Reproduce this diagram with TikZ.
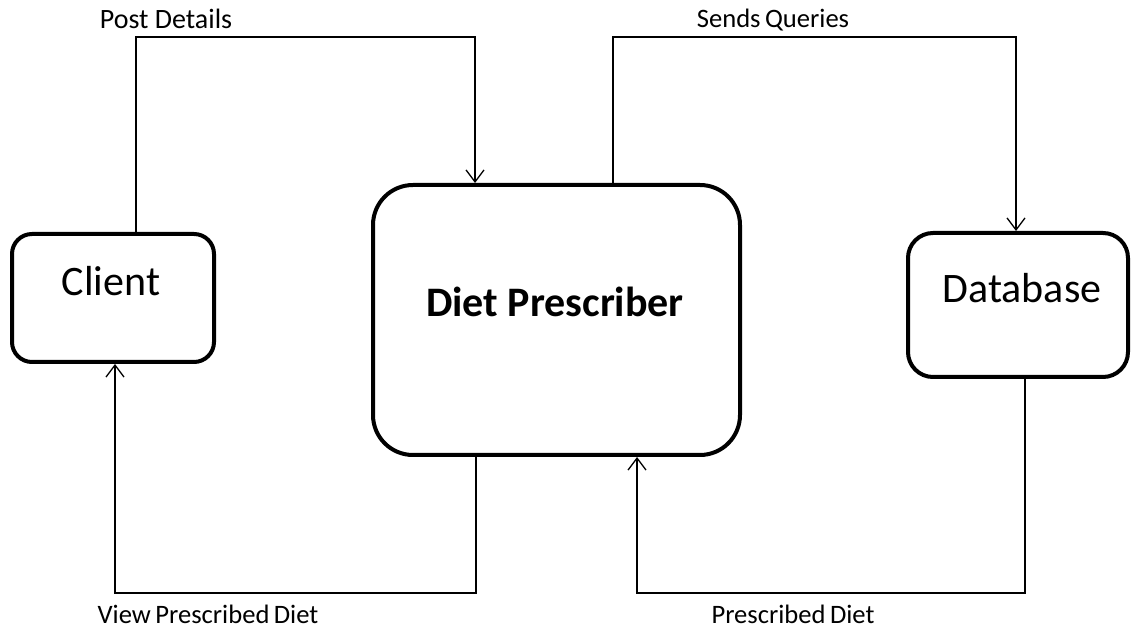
\documentclass[tikz,border=0pt]{standalone}
\usepackage{fontspec}
\setmainfont{Carlito}
\usetikzlibrary{arrows.meta}
\newcommand{\tightspaces}{\spaceskip=2.2pt\relax}
\begin{document}
\begin{tikzpicture}[x=0.5pt,y=-0.5pt,
  box/.style={draw=black,line width=2pt,fill=white,inner sep=0pt},
  boxtext/.style={anchor=base,inner sep=0pt,font=\fontsize{21}{25}\selectfont},
  flowtext/.style={anchor=base,inner sep=0pt,font=\fontsize{14}{17}\selectfont},
  tightflow/.style={flowtext,font=\fontsize{13.3}{16}\selectfont,execute at begin node=\tightspaces},
  conn/.style={draw=black,line width=0.65pt,-{Straight Barb[length=6pt,width=9pt,line width=0.65pt]}}]
\useasboundingbox (0,0) rectangle (1131,630);
\node[box,minimum width=101pt,minimum height=64pt,rounded corners=10pt] (client) at (113,298) {};
\node[box,minimum width=183.5pt,minimum height=135pt,rounded corners=20pt] (dp) at (556.5,320) {};
\node[box,minimum width=110pt,minimum height=72pt,rounded corners=12.5pt] (db) at (1018,305) {};
\node[boxtext] (clientlabel) at (111,296) {Client};
\node[boxtext,font=\fontsize{21}{25}\selectfont\bfseries] (dplabel) at (555,317) {Diet Prescriber};
\node[boxtext] (dblabel) at (1022,303) {Database};
\draw[conn] (136,0 |- client.north) -- (136,37) -- (475,37) -- (475,0 |- dp.north);
\draw[conn] (613,0 |- dp.north) -- (613,37) -- (1016,37) -- (1016,0 |- db.north);
\draw[conn] (476,0 |- dp.south) -- (476,593) -- (115,593) -- (115,0 |- client.south);
\draw[conn] (1025,0 |- db.south) -- (1025,593) -- (637,593) -- (637,0 |- dp.south);
\node[flowtext] (postlabel) at (166,29) {Post Details};
\node[tightflow] (sendslabel) at (773,28) {Sends Queries};
\node[tightflow] (viewlabel) at (208,624) {View Prescribed Diet};
\node[tightflow] (preslabel) at (793,624) {Prescribed Diet};
\end{tikzpicture}
\end{document}
